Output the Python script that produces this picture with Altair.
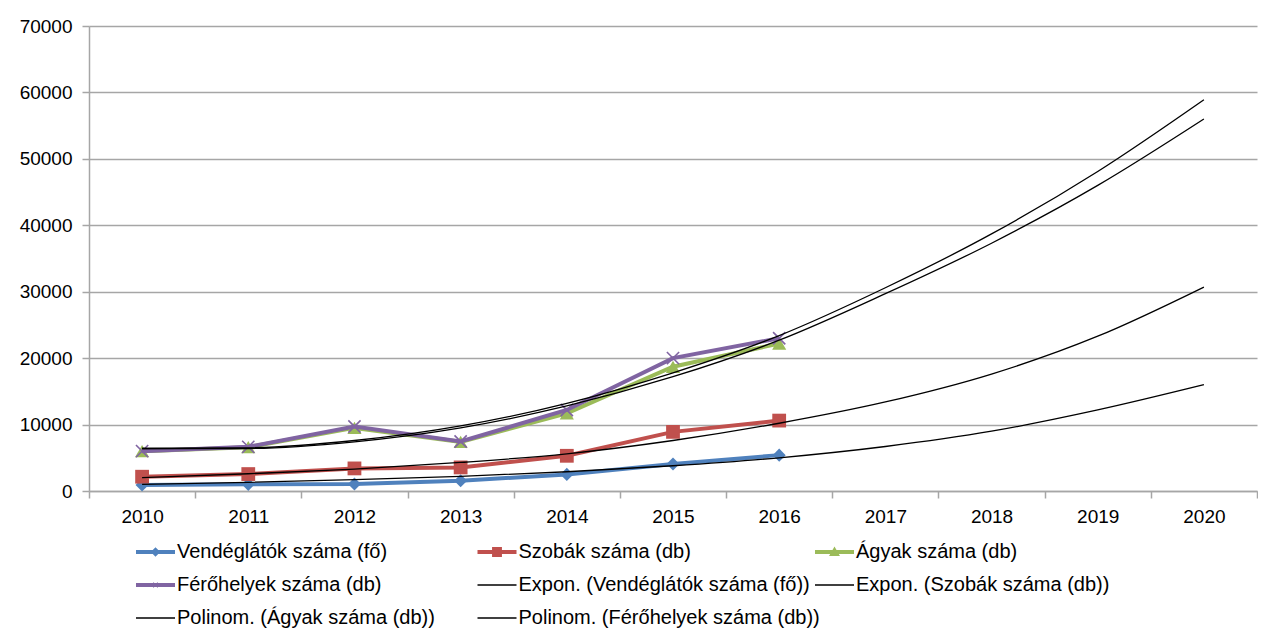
import altair as alt
import pandas as pd

FONT = "Liberation Sans"

years = [str(y) for y in range(2010, 2021)]
obs_years = years[:7]

# observed series (2010-2016)
vendeglatok = [900, 1000, 1050, 1550, 2500, 4050, 5400]
szobak = [2150, 2550, 3400, 3550, 5300, 8900, 10600]
agyak = [6000, 6600, 9500, 7400, 11700, 18700, 22200]
ferohelyek = [6000, 6650, 9700, 7450, 12200, 20000, 23000]

# trend lines (2010-2020)
trend_vend = [1000, 1300, 1700, 2200, 2900, 3800, 5000, 6700, 9000, 12200, 16000]
trend_szob = [2000, 2600, 3300, 4300, 5600, 7600, 10200, 13400, 17600, 23300, 30700]
trend_agy = [6400, 6400, 7400, 9500, 12800, 17200, 22700, 29700, 37300, 46000, 56000]
trend_fero = [6400, 6500, 7600, 9800, 13200, 17800, 23400, 30600, 38700, 48100, 58900]

series_names = ["Vendéglátók száma (fő)", "Szobák száma (db)",
                "Ágyak száma (db)", "Férőhelyek száma (db)"]
trend_names = ["Expon. (Vendéglátók száma (fő))", "Expon. (Szobák száma (db))",
               "Polinom. (Ágyak száma (db))", "Polinom. (Férőhelyek száma (db))"]
series_colors = ["#4F81BD", "#C0504D", "#9BBB59", "#8064A2"]

obs_values = [vendeglatok, szobak, agyak, ferohelyek]
trend_values = [trend_vend, trend_szob, trend_agy, trend_fero]

obs_df = pd.DataFrame([
    {"year": y, "value": v, "series": s}
    for s, vals in zip(series_names, obs_values)
    for y, v in zip(obs_years, vals)
])
trend_df = pd.DataFrame([
    {"year": y, "value": v, "series": s}
    for s, vals in zip(trend_names, trend_values)
    for y, v in zip(years, vals)
])

x_enc = alt.X("year:O", bandPosition=0.5,
              scale=alt.Scale(type="band", domain=years, paddingInner=0, paddingOuter=0),
              axis=alt.Axis(title=None, labelAngle=0, tickBand="extent", grid=False,
                            tickSize=7, labelPadding=9))
y_enc = alt.Y("value:Q",
              scale=alt.Scale(domain=[0, 70000], nice=False),
              axis=alt.Axis(title=None, values=list(range(0, 70001, 10000)), format="d",
                            tickSize=7, labelPadding=10, grid=True))

layers = []
marker_shapes = ["diamond", "square", "triangle-up", "M-1,-1L1,1M-1,1L1,-1"]
marker_sizes = [170, 190, 200, 150]
for name, col, shp, sz in zip(series_names, series_colors, marker_shapes, marker_sizes):
    base = alt.Chart(obs_df).transform_filter(alt.datum.series == name)
    layers.append(base.mark_line(color=col, strokeWidth=4).encode(x=x_enc, y=y_enc))
    if shp.startswith("M"):
        layers.append(base.mark_point(shape=shp, filled=False, color=col, strokeWidth=1.6,
                                      size=sz, opacity=1).encode(x=x_enc, y=y_enc))
    else:
        layers.append(base.mark_point(shape=shp, filled=True, color=col, size=sz,
                                      opacity=1).encode(x=x_enc, y=y_enc))

layers.append(
    alt.Chart(trend_df).mark_line(color="black", strokeWidth=1.3, interpolate="monotone")
    .encode(x=x_enc, y=y_enc, detail="series:N")
)

# legend (custom symbols: line + marker), one legend per column
line_thick = "M-1.5,-0.15H1.5V0.15H-1.5Z"
line_thin = "M-1.5,-0.05H1.5V0.05H-1.5Z"
sym = {
    series_names[0]: line_thick + "M0,-0.36L0.36,0L0,0.36L-0.36,0Z",
    series_names[1]: line_thick + "M-0.38,-0.38H0.38V0.38H-0.38Z",
    series_names[2]: line_thick + "M0,-0.42L0.42,0.3H-0.42Z",
    series_names[3]: line_thick + "M0.149,0.205L-0.205,-0.149L-0.149,-0.205L0.205,0.149Z"
                                  "M0.205,-0.149L-0.149,0.205L-0.205,0.149L0.149,-0.205Z",
}
for t in trend_names:
    sym[t] = line_thin
col_of = dict(zip(series_names, series_colors))
for t in trend_names:
    col_of[t] = "#000000"

legend_columns = [
    [series_names[0], series_names[3], trend_names[2]],
    [series_names[1], trend_names[0], trend_names[3]],
    [series_names[2], trend_names[1]],
]
legend_x = [53.5, 395, 732.5]

for names, lx in zip(legend_columns, legend_x):
    leg = alt.Legend(title=None, orient="none", legendX=lx, legendY=513, columns=1,
                     rowPadding=10, symbolSize=676, symbolStrokeWidth=0,
                     labelFont=FONT, labelFontSize=20, labelOffset=8.5, labelLimit=0,
                     padding=0, labelColor="#000000")
    layers.append(
        alt.Chart(pd.DataFrame({"series": names}))
        .mark_point(filled=True, opacity=1)
        .encode(
            color=alt.Color("series:N",
                            scale=alt.Scale(domain=names, range=[col_of[n] for n in names]),
                            legend=leg),
            shape=alt.Shape("series:N",
                            scale=alt.Scale(domain=names, range=[sym[n] for n in names]),
                            legend=leg),
        )
        .transform_filter("false")
    )

chart = (
    alt.layer(*layers)
    .resolve_scale(color="independent", shape="independent")
    .properties(width=1168, height=465,
                padding={"left": 11, "top": 9, "right": 0, "bottom": 0},
                background="white")
    .configure_view(stroke=None)
    .configure_axis(labelFont=FONT, labelFontSize=19, labelColor="#000000",
                    domainColor="#A6A6A6", domainWidth=1.5, tickColor="#A6A6A6",
                    tickWidth=1.5, gridColor="#A6A6A6", gridWidth=1.5)
)

chart.save("out.html", embed_options={"renderer": "svg", "actions": False})
